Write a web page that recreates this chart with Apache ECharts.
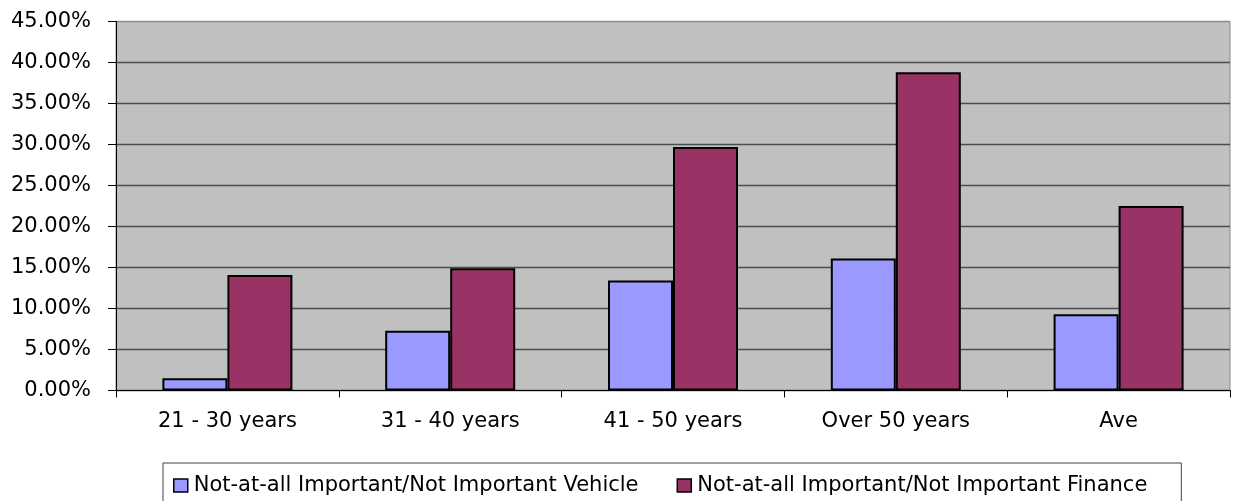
<!DOCTYPE html>
<html>
<head>
<meta charset="utf-8">
<script src="https://cdn.jsdelivr.net/npm/echarts@6/dist/echarts.min.js"></script>
<style>
  html, body { margin: 0; padding: 0; background: #ffffff; }
  #chart { width: 1238px; height: 501px; }
</style>
</head>
<body>
<div id="chart"></div>
<script>
// Age groups along the x axis
const categories = ['21 - 30 years', '31 - 40 years', '41 - 50 years', 'Over 50 years', 'Ave'];

// Share of respondents (percent) rating each factor not important
const vehicleValues = [1.5, 7.3, 13.4, 16.1, 9.3];
const financeValues = [14.1, 14.9, 29.7, 38.8, 22.5];

const seriesNames = [
  'Not-at-all Important/Not Important Vehicle',
  'Not-at-all Important/Not Important Finance'
];

// Value axis range and step (percent)
const yMin = 0;
const yMax = 45;
const yStep = 5;

const FONT = 'DejaVu Sans';

const chart = echarts.init(document.getElementById('chart'), null, { renderer: 'canvas' });

chart.setOption({
  animation: false,
  backgroundColor: '#ffffff',
  textStyle: { fontFamily: FONT, color: '#000000' },
  grid: {
    left: 116,
    right: 8,
    top: 21.5,
    bottom: 110.5,
    show: true,
    backgroundColor: '#C0C0C0',
    borderColor: '#8a8a8a',
    borderWidth: 1
  },
  legend: {
    data: seriesNames,
    left: 163,
    top: 463,
    orient: 'horizontal',
    itemWidth: 14,
    itemHeight: 13,
    itemGap: 38,
    padding: [12, 34, 30, 10],
    borderColor: '#404040',
    borderWidth: 1,
    backgroundColor: '#ffffff',
    icon: 'rect',
    itemStyle: { borderColor: '#000000', borderWidth: 1.5 },
    textStyle: { fontFamily: FONT, fontSize: 21, color: '#000000', padding: [0, 0, 0, 1] }
  },
  xAxis: {
    type: 'category',
    data: categories,
    boundaryGap: true,
    axisLine: { show: true, lineStyle: { color: '#000000', width: 1 } },
    axisTick: { show: true, inside: false, length: 7, alignWithLabel: false, lineStyle: { color: '#000000' } },
    axisLabel: { fontFamily: FONT, fontSize: 21, color: '#000000', margin: 21 },
    splitLine: { show: false }
  },
  yAxis: {
    type: 'value',
    min: yMin,
    max: yMax,
    interval: yStep,
    axisLine: { show: true, lineStyle: { color: '#000000', width: 1 } },
    axisTick: { show: true, inside: false, length: 8, lineStyle: { color: '#000000' } },
    axisLabel: {
      fontFamily: FONT,
      fontSize: 21,
      color: '#000000',
      margin: 25,
      formatter: v => v.toFixed(2) + '%'
    },
    splitLine: {
      show: true,
      lineStyle: {
        color: ['#4d4d4d', '#4d4d4d', '#4d4d4d', '#4d4d4d', '#4d4d4d', '#4d4d4d', '#4d4d4d', '#4d4d4d', '#4d4d4d', '#8a8a8a'],
        width: 1.3
      }
    }
  },
  series: [
    {
      name: seriesNames[0],
      type: 'bar',
      data: vehicleValues,
      barWidth: 65,
      barGap: '0%',
      itemStyle: { color: '#9999FF', borderColor: '#000000', borderWidth: 2 }
    },
    {
      name: seriesNames[1],
      type: 'bar',
      data: financeValues,
      barWidth: 65,
      barGap: '0%',
      itemStyle: { color: '#993366', borderColor: '#000000', borderWidth: 2 }
    }
  ]
});
</script>
</body>
</html>
